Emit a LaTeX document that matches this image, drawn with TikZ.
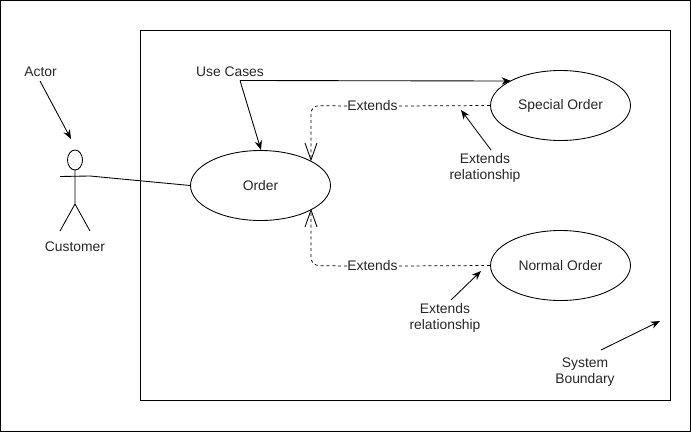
\documentclass[tikz,border=0pt]{standalone}
\usepackage{fontspec}
\setmainfont{Liberation Sans}
\usetikzlibrary{arrows.meta,shapes.geometric}
\tikzset{
 x=0.75pt,y=-0.75pt,
 usecase/.style={draw,ellipse,minimum width=105pt,minimum height=52.5pt,inner sep=0pt,font=\fontsize{10.4}{12}\selectfont,text=black!85},
 lbl/.style={inner sep=0pt,align=center,font=\fontsize{10.4}{12}\selectfont,text=black!85},
 arr/.style={-{Stealth[length=7pt,width=5.5pt]},line width=0.65pt},
 ext/.style={dash pattern=on 2.2pt off 2.2pt,line width=0.55pt,rounded corners=6pt},
}
\begin{document}
\begin{tikzpicture}[line width=0.65pt]
\useasboundingbox (0,0) rectangle (691,432);
\draw (0.5,0.5) rectangle (690.5,431);
\draw (140.5,30.5) rectangle (670.5,400.5);
\node[usecase] (order) at (260.5,185.5) {\raisebox{-0.6pt}{Order}};
\node[usecase] (special) at (560.5,105.5) {\raisebox{-0.6pt}{Special Order}};
\node[usecase] (normal) at (560.5,265.5) {\raisebox{-0.6pt}{Normal Order}};
\draw (75,160) circle[x radius=7.5,y radius=10];
\coordinate (neck) at (75,170);
\coordinate (hip) at (75,204);
\coordinate (hand) at (90,176);
\coordinate (tipA) at (311,160);
\coordinate (tipB) at (311,210);
\draw (neck) -- (hip) (60,176.5) -- (hand) (hip) -- (60,231) (hip) -- (90,231);
\draw (hand) -- (order.west);
\node[lbl] (customer) at (75,247) {Customer};
\node[lbl] (actor) at (40.5,71.5) {Actor};
\node[lbl] (usecases) at (230,71.5) {Use Cases};
\node[fill=white,lbl] (ext1) at (372.5,106) {Extends};
\node[fill=white,lbl] (ext2) at (372.5,266) {Extends};
\node[lbl] (rel1) at (485,167.5) {Extends\\relationship};
\node[lbl] (rel2) at (445,317.5) {Extends\\relationship};
\node[lbl] (sys) at (585,372.5) {System\\Boundary};
\coordinate (actorS) at (40,81);
\coordinate (actorT) at (71,139);
\coordinate (ucS) at (240,80.5);
\coordinate (ucA) at (261,150);
\coordinate (ucB) at (511,81);
\coordinate (rel1S) at (491,150);
\coordinate (rel1T) at (461,110);
\coordinate (rel2S) at (451,300);
\coordinate (rel2T) at (481,271);
\coordinate (sysS) at (601,350);
\coordinate (sysT) at (660,321);
\draw[arr] (actorS) -- (actorT);
\draw[arr] (ucS) -- (ucA);
\draw[arr] (ucS) -- (ucB);
\draw[arr] (rel1S) -- (rel1T);
\draw[arr] (rel2S) -- (rel2T);
\draw[arr] (sysS) -- (sysT);
\draw[ext] (special.west) -- (ext1.east);
\draw[ext] (ext1.west) -- (311,105.5) -- (tipA);
\draw[ext] (normal.west) -- (ext2.east);
\draw[ext] (ext2.west) -- (311,265.5) -- (tipB);
\draw (305,143) -- (tipA) -- (317,143);
\draw (305,227) -- (tipB) -- (317,227);
\end{tikzpicture}
\end{document}
